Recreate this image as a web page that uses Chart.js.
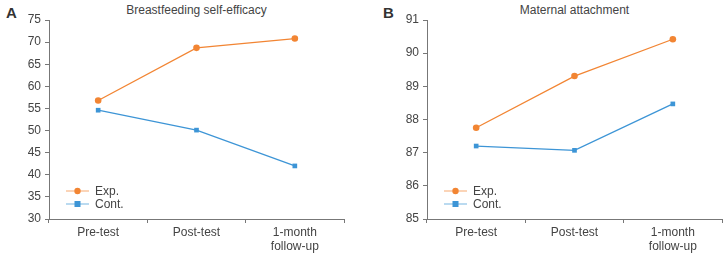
<!DOCTYPE html>
<html>
<head>
<meta charset="utf-8">
<script src="https://cdn.jsdelivr.net/npm/chart.js@4.4.0/dist/chart.umd.min.js"></script>
<style>
  body { margin:0; background:#fff; width:727px; height:255px; position:relative; overflow:hidden; font-family:"Liberation Sans", Arial, sans-serif; }
  .pane { position:absolute; top:0; height:255px; }
  .lbl { position:absolute; font-weight:bold; font-size:15px; color:#333; }
  .ttl { position:absolute; top:3px; font-size:12px; color:#444; text-align:center; }
</style>
</head>
<body>
<div class="lbl" style="left:6px;top:4px">A</div>
<div class="lbl" style="left:383px;top:4px">B</div>
<div class="ttl" style="left:49px;width:295px">Breastfeeding self-efficacy</div>
<div class="ttl" style="left:427px;width:295px">Maternal attachment</div>
<div class="pane" style="left:0;width:360px"><canvas id="chartA" width="360" height="255"></canvas></div>
<div class="pane" style="left:378px;width:349px"><canvas id="chartB" width="349" height="255"></canvas></div>
<script>
const categories = ['Pre-test', 'Post-test', ['1-month', 'follow-up']];
const seriesNames = ['Exp.', 'Cont.'];

const efficacyExp = [56.8, 68.7, 70.8];
const efficacyCont = [54.6, 50.1, 42.0];

const attachExp = [87.75, 89.31, 90.42];
const attachCont = [87.2, 87.07, 88.47];

const orange = '#f28533';
const blue = '#3d95d6';
const axisColor = '#777';
const textColor = '#444';

Chart.defaults.font.family = '"Liberation Sans", Arial, sans-serif';
Chart.defaults.font.size = 12;
Chart.defaults.color = textColor;

// legend drawn inside the plot, bottom-left
const innerLegend = {
  id: 'innerLegend',
  afterDraw(chart) {
    const c = chart.ctx, area = chart.chartArea;
    const x0 = area.left + 17, y0 = area.bottom - 28;
    chart.data.datasets.forEach((ds, i) => {
      const y = y0 + i * 13;
      c.save();
      c.globalAlpha = 0.55;
      c.strokeStyle = ds.borderColor;
      c.lineWidth = 1.3;
      c.beginPath(); c.moveTo(x0, y); c.lineTo(x0 + 23, y); c.stroke();
      c.globalAlpha = 1;
      c.fillStyle = ds.borderColor;
      if (ds.pointStyle === 'rect') {
        c.fillRect(x0 + 11.5 - 3, y - 3, 6, 6);
      } else {
        c.beginPath(); c.arc(x0 + 11.5, y, 3.2, 0, Math.PI * 2); c.fill();
      }
      c.fillStyle = textColor;
      c.font = '12px "Liberation Sans", Arial, sans-serif';
      c.textBaseline = 'middle';
      c.fillText(ds.label, x0 + 29, y + 1);
      c.restore();
    });
  }
};

function makeChart(id, exp, cont, yMin, yMax, step, padRight) {
  return new Chart(document.getElementById(id), {
    type: 'line',
    data: {
      labels: categories,
      datasets: [
        { label: seriesNames[0], data: exp, borderColor: orange, backgroundColor: orange,
          borderWidth: 1.3, pointRadius: 3.3, pointStyle: 'circle', pointBorderWidth: 0, tension: 0 },
        { label: seriesNames[1], data: cont, borderColor: blue, backgroundColor: blue,
          borderWidth: 1.3, pointRadius: 3.3, pointStyle: 'rect', pointBorderWidth: 0, tension: 0 }
      ]
    },
    options: {
      responsive: false,
      animation: false,
      layout: { padding: { top: 20, right: padRight, left: 0, bottom: 0 } },
      plugins: { legend: { display: false }, title: { display: false }, tooltip: { enabled: false } },
      scales: {
        x: {
          offset: true,
          grid: { offset: true, drawOnChartArea: false, drawTicks: true, tickLength: 4, color: axisColor },
          border: { color: axisColor, width: 1 },
          ticks: { padding: 2, color: textColor, maxRotation: 0 },
          afterFit(s) { s.height = 36; }
        },
        y: {
          min: yMin, max: yMax,
          grid: { drawOnChartArea: false, drawTicks: true, tickLength: 4, color: axisColor },
          border: { color: axisColor, width: 1 },
          ticks: { stepSize: step, padding: 4, color: textColor },
          afterFit(s) { s.width = 49; }
        }
      }
    },
    plugins: [innerLegend]
  });
}

makeChart('chartA', efficacyExp, efficacyCont, 30, 75, 5, 16);
makeChart('chartB', attachExp, attachCont, 85, 91, 1, 5);
</script>
</body>
</html>
